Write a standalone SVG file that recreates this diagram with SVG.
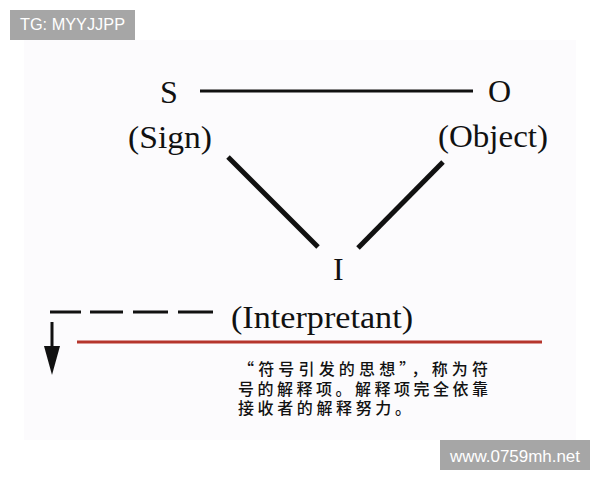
<svg xmlns="http://www.w3.org/2000/svg" width="600" height="480" viewBox="0 0 600 480">
<defs>
<style>
.lbl{font-family:"Liberation Serif","Times New Roman",serif;font-size:32px;fill:#111}
.cn{font-family:"Noto Sans CJK SC","Noto Sans CJK JP",sans-serif;font-size:16px;font-weight:500;fill:#111}
.wm{font-family:"Liberation Sans",Arial,sans-serif;font-size:16px;fill:#ffffff}
.ln{stroke:#111;fill:none;stroke-linecap:butt}
</style>
</defs>
<rect x="0" y="0" width="600" height="480" fill="#ffffff"/>
<rect x="24" y="40" width="552" height="400" fill="#fcfbfd"/>
<g id="connectors">
<line class="ln" x1="200" y1="91" x2="473" y2="91" stroke-width="3"/>
<line class="ln" x1="228" y1="157" x2="318" y2="247" stroke-width="5"/>
<line class="ln" x1="443" y1="162" x2="358" y2="248" stroke-width="5"/>
<line class="ln" x1="50" y1="312" x2="213" y2="312" stroke-width="3" stroke-dasharray="31 9 33 10 35 10 35"/>
<line class="ln" x1="52" y1="322" x2="52" y2="350" stroke-width="3"/>
<polygon points="44,346 60,346 52,375" fill="#111"/>
<line x1="77" y1="342" x2="542" y2="342" stroke="#b5352c" stroke-width="3"/>
</g>
<g id="node-S"><text class="lbl" x="160" y="103">S</text></g>
<g id="node-Sign"><text class="lbl" x="128" y="148" textLength="84" lengthAdjust="spacingAndGlyphs">(Sign)</text></g>
<g id="node-O"><text class="lbl" x="488" y="102">O</text></g>
<g id="node-Object"><text class="lbl" x="438" y="147" textLength="110" lengthAdjust="spacingAndGlyphs">(Object)</text></g>
<g id="node-I"><text class="lbl" x="333" y="280">I</text></g>
<g id="node-Interpretant"><text class="lbl" x="231" y="328" textLength="182" lengthAdjust="spacingAndGlyphs">(Interpretant)</text></g>
<g id="caption">
<text class="cn" x="238" y="375" textLength="250" lengthAdjust="spacing">“符号引发的思想”，称为符</text>
<text class="cn" x="238" y="395" textLength="250" lengthAdjust="spacing">号的解释项。解释项完全依靠</text>
<text class="cn" x="238" y="414" textLength="173" lengthAdjust="spacing">接收者的解释努力。</text>
</g>
<g id="watermark-tg">
<rect x="10" y="10" width="125" height="30" fill="#a6a6a6"/>
<text class="wm" x="20" y="30" textLength="105" lengthAdjust="spacingAndGlyphs">TG: MYYJJPP</text>
</g>
<g id="watermark-www">
<rect x="440" y="440" width="150" height="30" fill="#a6a6a6"/>
<text class="wm" x="450" y="462" textLength="130" lengthAdjust="spacingAndGlyphs">www.0759mh.net</text>
</g>
</svg>
